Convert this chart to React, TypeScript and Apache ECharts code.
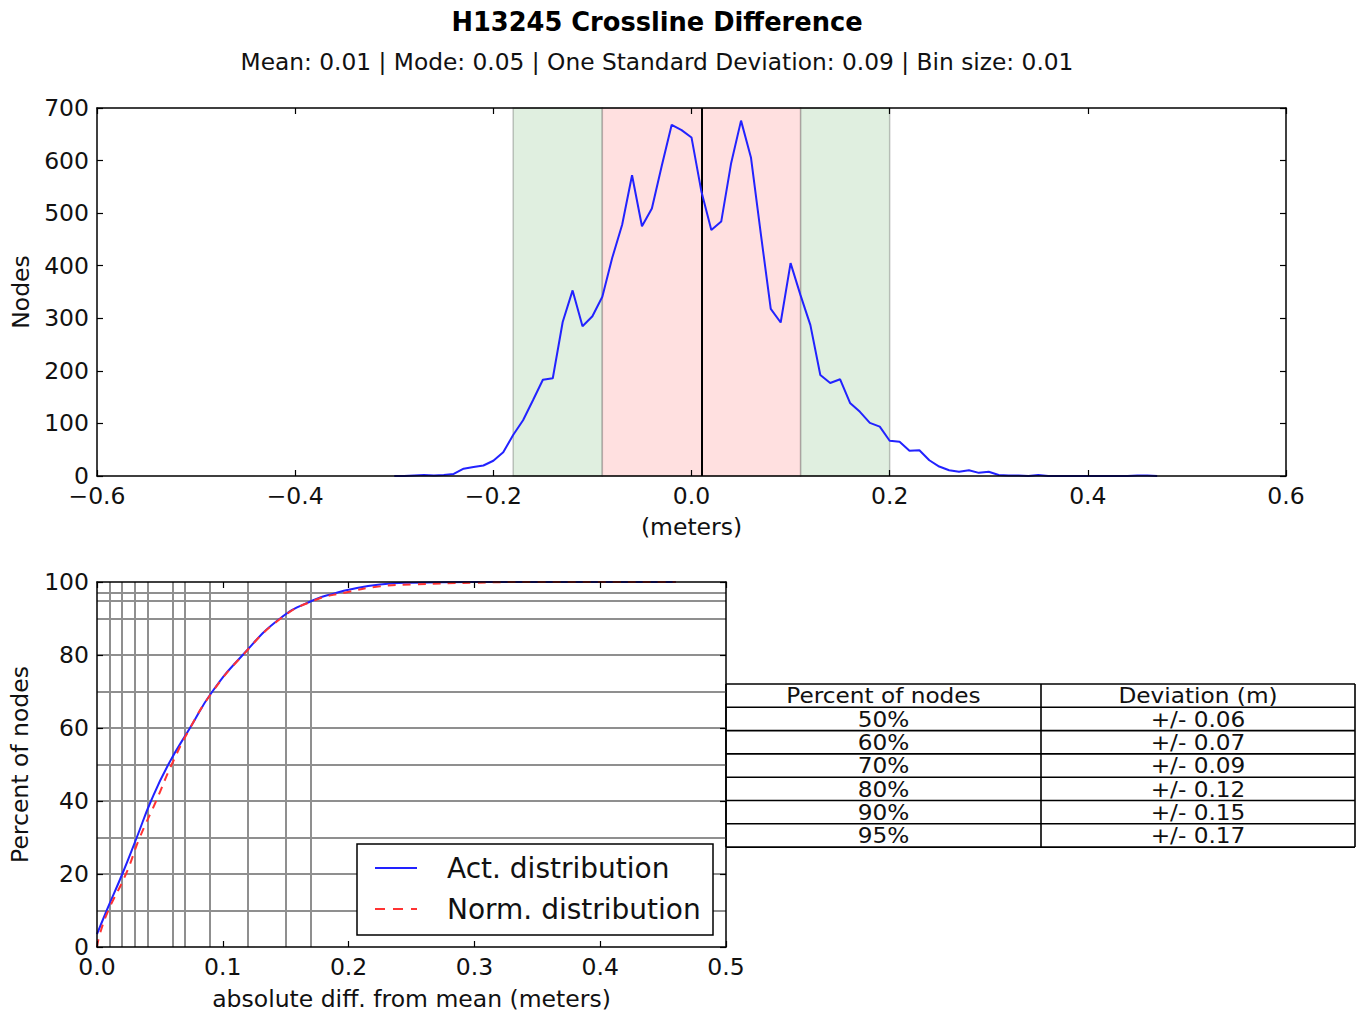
import React, { useEffect, useRef } from "react";
import * as echarts from "echarts";

const FONT = "DejaVu Sans";

const TITLE = "H13245 Crossline Difference";
const SUBTITLE = "Mean: 0.01 | Mode: 0.05 | One Standard Deviation: 0.09 | Bin size: 0.01";

// Histogram (bin centres start at binStart, step binSize)
const binStart = -0.3;
const binSize = 0.01;
const nodeCounts = [
  0, 0, 1, 2, 1, 2, 4, 14, 17, 20,
  29, 45, 78, 106, 144, 183, 186, 293, 353, 285,
  304, 341, 415, 478, 572, 475, 509, 590, 668, 658,
  644, 541, 468, 484, 595, 676, 606, 460, 318, 292,
  405, 344, 287, 192, 177, 184, 139, 122, 101, 94,
  67, 65, 48, 49, 30, 18, 11, 8, 11, 6,
  8, 2, 1, 1, 0, 2, 0, 0, 0, 0,
  0, 0, 0, 0, 0, 1, 1, 0,
];

const meanValue = 0.01;
const innerBand = [-0.09, 0.11];
const outerBandLeft = [-0.18, -0.09];
const outerBandRight = [0.11, 0.2];

// Cumulative distribution
const actDiff = [0, 0.0077, 0.0201, 0.0316, 0.0429, 0.0567, 0.0739, 0.0917, 0.1158, 0.1455, 0.1719, 0.19, 0.2, 0.225, 0.25, 0.3, 0.46];
const actPct = [3.5, 10, 20, 30, 40, 50, 60, 70, 80, 90, 95, 97, 97.9, 99.3, 99.8, 100, 100];
const normDiff = [0, 0.0024, 0.009, 0.023, 0.034, 0.047, 0.0594, 0.074, 0.092, 0.116, 0.146, 0.173, 0.196, 0.225, 0.25, 0.3, 0.35, 0.46];
const normPct = [0, 3.7, 10, 20, 30, 40, 50, 60, 70, 80, 90, 95, 97, 98.8, 99.3, 99.8, 100, 100];

// Percentile guide lines
const pctGridX = [0.0077, 0.0201, 0.0316, 0.0429, 0.0567, 0.0739, 0.0917, 0.1158, 0.1455, 0.1719];
const pctGridY = [10, 20, 30, 40, 50, 60, 70, 80, 90, 95, 97];

// Legend
const legendNames = ["Act. distribution", "Norm. distribution"];
const ACT_COLOR = "#2222ff";
const NORM_COLOR = "#ff3333";

// Table
const tableHeader = ["Percent of nodes", "Deviation (m)"];
const tablePercent = ["50%", "60%", "70%", "80%", "90%", "95%"];
const tableDeviation = ["+/- 0.06", "+/- 0.07", "+/- 0.09", "+/- 0.12", "+/- 0.15", "+/- 0.17"];

const TICK_FS = 23.5;
const NAME_FS = 23.5;

const fmtSigned = (v: number) => {
  const r = Math.round(v * 10) / 10;
  if (Math.abs(r) < 1e-9) return "0.0";
  return (r < 0 ? "\u2212" : "") + Math.abs(r).toFixed(1);
};

const labelStyle = (extra: any = {}) => ({
  show: true, color: "#111", fontFamily: FONT, fontSize: TICK_FS, lineHeight: 20, margin: 8,
  showMinLabel: true, showMaxLabel: true, ...extra,
});

const axisCommon = (extra: any) => ({
  type: "value",
  z: 10,
  splitLine: { show: false },
  axisLine: { show: true, onZero: false, lineStyle: { color: "#000", width: 1.5 } },
  axisTick: { show: true, inside: true, length: 6, lineStyle: { color: "#000", width: 1.2 } },
  axisLabel: labelStyle(),
  ...extra,
});

export default function App() {
  const ref = useRef<HTMLDivElement>(null);

  useEffect(() => {
    if (!ref.current) return;
    const chart = echarts.init(ref.current, undefined, { renderer: "svg" });

    const histData = nodeCounts.map((c, i) => [Math.round((binStart + i * binSize) * 100) / 100, c]);
    const actData = actDiff.map((x, i) => [x, actPct[i]]);
    const normData = normDiff.map((x, i) => [x, normPct[i]]);

    const graphics: any[] = [];

    // Table
    const tableLeft = 726;
    const tableRight = 1355;
    const colSplit = 1041;
    const tableTop = 684;
    const rowH = 23.3;
    const nRows = tablePercent.length + 1;
    for (let i = 0; i <= nRows; i++) {
      const y = tableTop + i * rowH;
      graphics.push({ type: "line", shape: { x1: tableLeft, y1: y, x2: tableRight, y2: y }, style: { stroke: "#000", lineWidth: 1.6 } });
    }
    [tableLeft, colSplit, tableRight].forEach((x) => {
      graphics.push({ type: "line", shape: { x1: x, y1: tableTop, x2: x, y2: tableTop + nRows * rowH }, style: { stroke: "#000", lineWidth: 1.6 } });
    });
    const c1 = (tableLeft + colSplit) / 2;
    const c2 = (colSplit + tableRight) / 2;
    const rowsText = [[tableHeader[0], tableHeader[1]], ...tablePercent.map((p, i) => [p, tableDeviation[i]])];
    rowsText.forEach((r, i) => {
      const y = tableTop + i * rowH + rowH / 2;
      graphics.push({ type: "text", x: c1, y, scaleX: 1.08, style: { text: r[0], fill: "#111", fontFamily: FONT, fontSize: 21.5, align: "center", verticalAlign: "middle" } });
      graphics.push({ type: "text", x: c2, y, scaleX: 1.08, style: { text: r[1], fill: "#111", fontFamily: FONT, fontSize: 21.5, align: "center", verticalAlign: "middle" } });
    });

    // Titles
    graphics.push({ type: "text", x: 657, y: 22, style: { text: TITLE, fill: "#000", fontFamily: FONT, fontWeight: "bold", fontSize: 25.7, align: "center", verticalAlign: "middle" } });
    graphics.push({ type: "text", x: 657, y: 61, style: { text: SUBTITLE, fill: "#111", fontFamily: FONT, fontSize: 23.3, align: "center", verticalAlign: "middle" } });

    // Legend (drawn by hand, matplotlib style)
    const lgX = 357, lgY = 844, lgW = 356, lgH = 91;
    graphics.push({ type: "rect", z: 100, shape: { x: lgX, y: lgY, width: lgW, height: lgH }, style: { fill: "#fff", stroke: "#000", lineWidth: 1.5 } });
    const lgRows = [868, 909];
    legendNames.forEach((name, i) => {
      const y = lgRows[i];
      graphics.push({
        type: "line", z: 101,
        shape: { x1: 375, y1: y, x2: 417, y2: y },
        style: { stroke: i === 0 ? ACT_COLOR : NORM_COLOR, lineWidth: 2, lineDash: i === 0 ? null : [10, 8] },
      });
      graphics.push({ type: "text", z: 101, x: 447, y, style: { text: name, fill: "#111", fontFamily: FONT, fontSize: 28, align: "left", verticalAlign: "middle" } });
    });

    const nameStyle = { color: "#111", fontFamily: FONT, fontSize: NAME_FS };

    chart.setOption({
      animation: false,
      backgroundColor: "#fff",
      grid: [
        { left: 97, top: 108, width: 1189, height: 368 },
        { left: 97, top: 582, width: 629, height: 365 },
      ],
      xAxis: [
        axisCommon({ gridIndex: 0, min: -0.6, max: 0.6, interval: 0.2, position: "bottom",
          axisLabel: labelStyle({ formatter: fmtSigned, margin: 10 }),
          name: "(meters)", nameLocation: "middle", nameGap: 39, nameTextStyle: nameStyle }),
        axisCommon({ gridIndex: 0, min: -0.6, max: 0.6, interval: 0.2, position: "top", axisLabel: { show: false } }),
        axisCommon({ gridIndex: 1, min: 0, max: 0.5, interval: 0.1, position: "bottom",
          axisLabel: labelStyle({ formatter: (v: number) => v.toFixed(1), margin: 10 }),
          name: "absolute diff. from mean (meters)", nameLocation: "middle", nameGap: 40, nameTextStyle: nameStyle }),
        axisCommon({ gridIndex: 1, min: 0, max: 0.5, interval: 0.1, position: "top", axisLabel: { show: false } }),
      ],
      yAxis: [
        axisCommon({ gridIndex: 0, min: 0, max: 700, interval: 100, position: "left",
          name: "Nodes", nameLocation: "middle", nameGap: 64, nameTextStyle: nameStyle }),
        axisCommon({ gridIndex: 0, min: 0, max: 700, interval: 100, position: "right", axisLabel: { show: false } }),
        axisCommon({ gridIndex: 1, min: 0, max: 100, interval: 20, position: "left",
          name: "Percent of nodes", nameLocation: "middle", nameGap: 65, nameTextStyle: nameStyle }),
        axisCommon({ gridIndex: 1, min: 0, max: 100, interval: 20, position: "right", axisLabel: { show: false } }),
      ],
      graphic: graphics,
      series: [
        {
          type: "line",
          name: "Nodes",
          xAxisIndex: 0,
          yAxisIndex: 0,
          data: histData,
          showSymbol: false,
          symbol: "none",
          z: 5,
          lineStyle: { color: ACT_COLOR, width: 2 },
          itemStyle: { color: ACT_COLOR },
          markArea: {
            silent: true,
            data: [
              [{ xAxis: outerBandLeft[0], itemStyle: { color: "#e0efe0", opacity: 1, borderColor: "rgba(0,0,0,0.22)", borderWidth: 1.5 } }, { xAxis: outerBandLeft[1] }],
              [{ xAxis: outerBandRight[0], itemStyle: { color: "#e0efe0", opacity: 1, borderColor: "rgba(0,0,0,0.22)", borderWidth: 1.5 } }, { xAxis: outerBandRight[1] }],
              [{ xAxis: innerBand[0], itemStyle: { color: "#ffe0e0", opacity: 1, borderColor: "rgba(0,0,0,0.22)", borderWidth: 1.5 } }, { xAxis: innerBand[1] }],
            ],
          },
          markLine: {
            silent: true,
            symbol: ["none", "none"],
            label: { show: false },
            lineStyle: { color: "#000", width: 2, type: "solid" },
            data: [{ xAxis: meanValue }],
          },
        },
        {
          type: "line",
          name: "guides",
          xAxisIndex: 2,
          yAxisIndex: 2,
          data: [],
          z: 1,
          markLine: {
            silent: true,
            z: 1,
            symbol: ["none", "none"],
            label: { show: false },
            lineStyle: { color: "#8f8f8f", width: 2, type: "solid" },
            data: [...pctGridX.map((x) => ({ xAxis: x })), ...pctGridY.map((y) => ({ yAxis: y }))],
          },
        },
        {
          type: "line",
          name: legendNames[0],
          xAxisIndex: 2,
          yAxisIndex: 2,
          data: actData,
          smooth: 0.5,
          showSymbol: false,
          symbol: "none",
          z: 5,
          lineStyle: { color: ACT_COLOR, width: 2 },
          itemStyle: { color: ACT_COLOR },
        },
        {
          type: "line",
          name: legendNames[1],
          xAxisIndex: 2,
          yAxisIndex: 2,
          data: normData,
          smooth: 0.5,
          showSymbol: false,
          symbol: "none",
          z: 6,
          lineStyle: { color: NORM_COLOR, width: 2, type: [8, 7] },
          itemStyle: { color: NORM_COLOR },
        },
      ],
    });

    return () => chart.dispose();
  }, []);

  return (
    <div
      ref={ref}
      style={{ position: "fixed", left: 0, top: 0, width: 1356, height: 1017, background: "#fff" }}
    />
  );
}
